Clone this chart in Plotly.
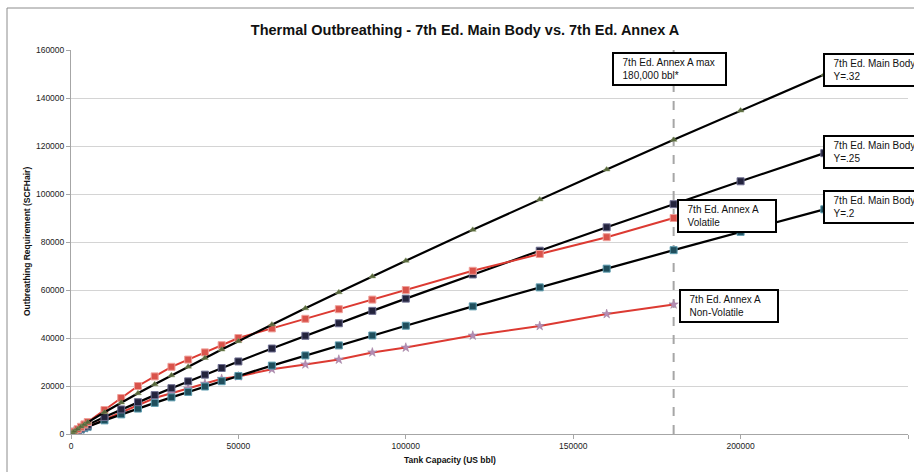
import plotly.graph_objects as go

# Tank capacities (US bbl)
cap_annex = [60, 100, 500, 1000, 2000, 3000, 4000, 5000, 10000, 15000, 20000, 25000,
             30000, 35000, 40000, 45000, 50000, 60000, 70000, 80000, 90000, 100000,
             120000, 140000, 160000, 180000]
cap_main = cap_annex + [200000, 225000]

# 7th Ed. Annex A outbreathing (SCFH air)
annex_volatile = [60, 100, 500, 1000, 2000, 3000, 4000, 5000, 10000, 15000, 20000, 24000,
                  28000, 31000, 34000, 37000, 40000, 44000, 48000, 52000, 56000, 60000,
                  68000, 75000, 82000, 90000]
annex_nonvolatile = [40, 60, 300, 600, 1200, 1800, 2400, 3000, 6000, 9000, 12000, 15000,
                     17000, 19000, 21000, 23000, 24000, 27000, 29000, 31000, 34000, 36000,
                     41000, 45000, 50000, 54000]

# 7th Ed. Main Body outbreathing (SCFH air)
main_y32 = [91, 144, 612, 1144, 2135, 3076, 3986, 4872, 9089, 13093, 16963, 20736,
            24431, 28067, 31654, 35197, 38687, 45596, 52376, 59063, 65668, 72195,
            85087, 97753, 110229, 122559, 134778, 149786]
main_y25 = [71, 113, 479, 894, 1668, 2403, 3114, 3806, 7101, 10229, 13252, 16200,
            19087, 21928, 24730, 27498, 30225, 35622, 40919, 46143, 51303, 56402,
            66474, 76370, 86117, 95750, 105295, 117021]
main_y20 = [57, 90, 383, 715, 1335, 1923, 2491, 3045, 5680, 8183, 10602, 12960,
            15269, 17542, 19784, 21998, 24180, 28497, 32735, 36915, 41043, 45122,
            53179, 61096, 68893, 76600, 84236, 93616]

limit_x = [180000, 180000]
limit_y = [0, 160000]

title = "Thermal Outbreathing - 7th Ed. Main Body vs. 7th Ed. Annex A"
x_title = "Tank Capacity (US bbl)"
y_title = "Outbreathing Requirement (SCFHair)"

FONT = "Liberation Sans"
W, H = 914, 472
L, R, T, B = 71, 6, 50, 38
PW, PH = W - L - R, H - T - B


def px(x):
    return (x - L) / PW


def py(y):
    return (H - B - y) / PH


fig = go.Figure()

fig.add_trace(go.Scatter(x=limit_x, y=limit_y, mode="lines",
                         line=dict(color="#A6A6A6", width=2, dash="dash"),
                         hoverinfo="skip", showlegend=False))

fig.add_trace(go.Scatter(x=cap_annex, y=annex_nonvolatile, mode="lines+markers",
                         line=dict(color="#DC3A32", width=2),
                         marker=dict(symbol="star", size=7, color="#B48CB4",
                                     line=dict(color="#9A7A9A", width=0.5)),
                         showlegend=False))
fig.add_trace(go.Scatter(x=cap_main, y=main_y20, mode="lines+markers",
                         line=dict(color="#000000", width=2.2),
                         marker=dict(symbol="square", size=7, color="#1F4E5C",
                                     line=dict(color="#5E9DB0", width=1)),
                         showlegend=False))
fig.add_trace(go.Scatter(x=cap_main, y=main_y25, mode="lines+markers",
                         line=dict(color="#000000", width=2.2),
                         marker=dict(symbol="square", size=7, color="#23233D",
                                     line=dict(color="#6E6E90", width=1)),
                         showlegend=False))
fig.add_trace(go.Scatter(x=cap_annex, y=annex_volatile, mode="lines+markers",
                         line=dict(color="#DC3A32", width=2),
                         marker=dict(symbol="square", size=7, color="#D9534B",
                                     line=dict(color="#EFA09A", width=1)),
                         showlegend=False))
fig.add_trace(go.Scatter(x=cap_main, y=main_y32, mode="lines+markers",
                         line=dict(color="#000000", width=2.2),
                         marker=dict(symbol="triangle-up", size=6, color="#55663A",
                                     line=dict(color="#8A9A6A", width=0.5)),
                         showlegend=False))

PAD = 3
boxes = [
    (["7th Ed. Annex A max", "180,000 bbl*"], 612, 52, 115),
    (["7th Ed. Main Body", "Y=.32"], 823, 53, 110),
    (["7th Ed. Main Body", "Y=.25"], 823, 135, 110),
    (["7th Ed. Main Body", "Y=.2"], 823, 190, 110),
    (["7th Ed. Annex A", "Volatile"], 677, 199, 100),
    (["7th Ed. Annex A", "Non-Volatile"], 679, 289, 100),
]
annotations = []
for lines, bx, by, bw in boxes:
    text = "<br>".join("&nbsp;&nbsp;" + s for s in lines)
    annotations.append(dict(
        text=text, xref="paper", yref="paper", x=px(bx), y=py(by),
        xanchor="left", yanchor="top", align="left",
        showarrow=False, bgcolor="white", bordercolor="black", borderwidth=2,
        borderpad=PAD, width=bw - 4 - 2 * PAD,
        font=dict(family=FONT, size=10, color="#111111")))

annotations.append(dict(text="<b>" + x_title + "</b>", xref="paper", yref="paper",
                        x=px(450), y=py(460), xanchor="center", yanchor="middle",
                        showarrow=False, font=dict(family=FONT, size=8.5, color="#111111")))
annotations.append(dict(text="<b>" + y_title + "</b>", xref="paper", yref="paper",
                        x=px(27), y=py(242), xanchor="center", yanchor="middle",
                        textangle=-90, showarrow=False,
                        font=dict(family=FONT, size=8.5, color="#111111")))

shapes = [
    dict(type="line", xref="paper", yref="paper", x0=px(7), x1=px(7),
         y0=py(480), y1=py(8), line=dict(color="#8C8C8C", width=1)),
    dict(type="line", xref="paper", yref="paper", x0=px(7), x1=px(920),
         y0=py(8), y1=py(8), line=dict(color="#8C8C8C", width=1)),
]

fig.update_layout(
    width=W, height=H,
    margin=dict(l=L, r=R, t=T, b=B),
    paper_bgcolor="white", plot_bgcolor="white",
    title=dict(text="<b>" + title + "</b>", x=465 / W, xanchor="center",
               xref="container", y=1 - 30 / H, yanchor="middle",
               font=dict(family=FONT, size=14.5, color="#111111")),
    xaxis=dict(range=[0, 250000], dtick=50000, tick0=0, tickformat="d",
               showgrid=False, zeroline=False, showline=True,
               linecolor="#A6A6A6", linewidth=1, ticks="outside", ticklen=4,
               tickcolor="#A6A6A6",
               tickfont=dict(family=FONT, size=8.5, color="#222222")),
    yaxis=dict(range=[0, 160000], dtick=20000, tick0=0, tickformat="d",
               showgrid=True, gridcolor="#D4D4D4", gridwidth=1, zeroline=False,
               showline=True, linecolor="#A6A6A6", linewidth=1,
               ticks="outside", ticklen=4, tickcolor="#A6A6A6",
               tickfont=dict(family=FONT, size=8.5, color="#222222")),
    annotations=annotations,
    shapes=shapes,
)

fig.write_html("out.html", config={"displayModeBar": False},
               post_script="document.body.style.margin='0px';document.body.style.overflow='hidden';")
